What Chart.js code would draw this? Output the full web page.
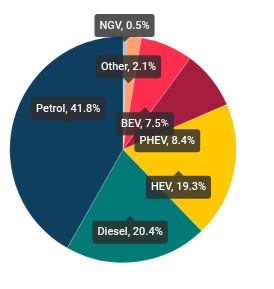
<!DOCTYPE html>
<html lang="en">
<head>
    <meta charset="UTF-8">
    <title>Fuel type share</title>
    <script src="https://cdn.jsdelivr.net/npm/chart.js"></script>
    <style>
        html, body { margin: 0; padding: 0; background: #fff; }
        .chart-box { width: 274px; height: 289px; }
    </style>
</head>
<body>
    <div class="chart-box"><canvas id="fuelChart"></canvas></div>

    <script>
        // Data
        const fuelTypes = ['NGV', 'Other', 'BEV', 'PHEV', 'HEV', 'Diesel', 'Petrol'];
        const shares = [0.5, 2.1, 7.5, 8.4, 19.3, 20.4, 41.8];

        const sliceColors = ['#8ec3ea', '#ffa26b', '#ff2e4c', '#a51c3e', '#ffc800', '#007a77', '#0e3f5e'];

        // where the tooltip-like labels sit (box above or below the anchor point)
        const labelPlacement = {
            NGV: { side: 'above', radius: 0.86 },
            Other: { side: 'above', radius: 0.5 },
            Petrol: { side: 'above', radius: 0.5 }
        };

        const calloutPlugin = {
            id: 'callouts',
            afterDatasetsDraw(chart) {
                const ctx = chart.ctx;
                const meta = chart.getDatasetMeta(0);
                ctx.save();
                ctx.font = '500 11px Roboto';
                ctx.textBaseline = 'middle';
                ctx.textAlign = 'center';

                meta.data.forEach((arc, i) => {
                    const p = arc.getProps(['x', 'y', 'startAngle', 'endAngle', 'outerRadius'], true);
                    const place = labelPlacement[fuelTypes[i]] || { side: 'below', radius: 0.5 };
                    const mid = (p.startAngle + p.endAngle) / 2;
                    const r = p.outerRadius * place.radius;
                    const px = p.x + Math.cos(mid) * r;
                    const py = p.y + Math.sin(mid) * r;

                    const text = fuelTypes[i] + ', ' + shares[i] + '%';
                    const w = ctx.measureText(text).width + 10;
                    const h = 23;
                    const gap = 15, caret = 5;
                    const bx = px - w / 2;
                    const by = place.side === 'above' ? py - gap - h : py + gap;

                    ctx.fillStyle = 'rgba(45, 45, 45, 0.82)';
                    ctx.beginPath();
                    ctx.roundRect(bx, by, w, h, 3);
                    ctx.fill();

                    ctx.beginPath();
                    if (place.side === 'above') {
                        ctx.moveTo(px - caret, by + h);
                        ctx.lineTo(px, by + h + caret);
                        ctx.lineTo(px + caret, by + h);
                    } else {
                        ctx.moveTo(px - caret, by);
                        ctx.lineTo(px, by - caret);
                        ctx.lineTo(px + caret, by);
                    }
                    ctx.closePath();
                    ctx.fill();

                    ctx.fillStyle = '#ffffff';
                    ctx.fillText(text, px, by + h / 2 + 0.5);
                });
                ctx.restore();
            }
        };

        new Chart(document.getElementById('fuelChart'), {
            type: 'pie',
            data: {
                labels: fuelTypes,
                datasets: [{
                    data: shares,
                    backgroundColor: sliceColors,
                    borderColor: 'rgba(255, 255, 255, 0.4)',
                    borderWidth: 0.5
                }]
            },
            options: {
                responsive: true,
                maintainAspectRatio: false,
                animation: false,
                layout: { padding: { left: 9, right: 37, top: 36, bottom: 26 } },
                plugins: {
                    legend: { display: false },
                    tooltip: { enabled: false }
                }
            },
            plugins: [calloutPlugin]
        });
    </script>
</body>
</html>
